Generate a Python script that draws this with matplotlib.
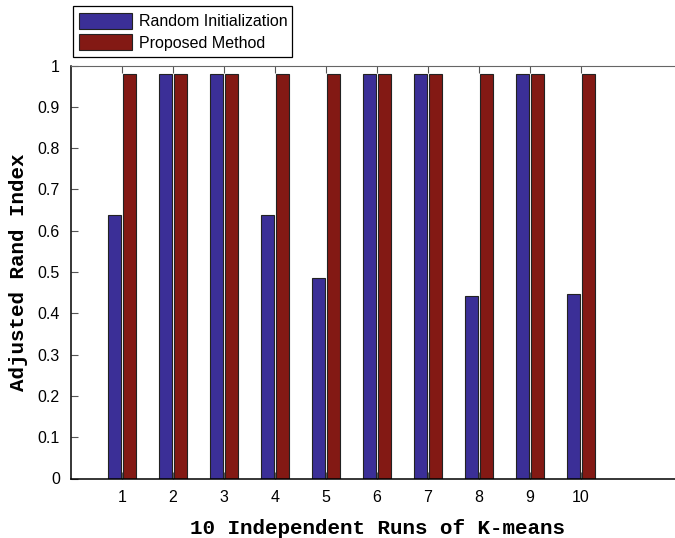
import numpy as np
import matplotlib.pyplot as plt

runs = [1, 2, 3, 4, 5, 6, 7, 8, 9, 10]
random_init = [0.638, 0.98, 0.98, 0.638, 0.485, 0.98, 0.98, 0.442, 0.98, 0.447]
proposed = [0.98, 0.98, 0.98, 0.98, 0.98, 0.98, 0.98, 0.98, 0.98, 0.98]

plt.rcParams['font.family'] = ['Liberation Sans', 'DejaVu Sans']

fig = plt.figure(figsize=(6.75, 5.38), dpi=100)
ax = fig.add_axes([71/675, 1 - 478.5/538, 612/675, 413/538])

x = np.array(runs)
ax.bar(x - 0.14, random_init, width=0.25, color='#3b2f97', edgecolor='#222222',
       linewidth=0.8, label='Random Initialization')
ax.bar(x + 0.145, proposed, width=0.25, color='#831914', edgecolor='#222222',
       linewidth=0.8, label='Proposed Method')

ax.set_xlim(0, 12)
ax.set_ylim(0, 1)
ax.set_xticks(runs)
ax.set_yticks(np.arange(0, 1.01, 0.1))
ax.set_yticklabels(['0', '0.1', '0.2', '0.3', '0.4', '0.5', '0.6', '0.7', '0.8', '0.9', '1'])
ax.tick_params(direction='in', length=5, labelsize=11.5, top=True, right=False,
               pad=8, color='#555555')
ax.spines['right'].set_visible(False)
ax.spines['top'].set_color('#666666')
ax.spines['left'].set_linewidth(1.1)
ax.spines['bottom'].set_linewidth(1.1)

ax.set_xlabel('10 Independent Runs of K-means', family='Liberation Mono',
              fontweight='bold', fontsize=15, labelpad=10)
ax.set_ylabel('Adjusted Rand Index', family='Liberation Mono',
              fontweight='bold', fontsize=15, labelpad=7)

leg = ax.legend(loc='lower left', bbox_to_anchor=(73/675, 1 - 57/538, 219/675, 52/538),
                bbox_transform=fig.transFigure, mode='expand', fontsize=11.5,
                fancybox=False, framealpha=1, edgecolor='black', borderaxespad=0,
                handlelength=3.3, handleheight=1.2, labelspacing=0.3,
                borderpad=0.4, handletextpad=0.45)
leg.get_frame().set_linewidth(0.9)

fig.savefig('out.png', dpi=100)
